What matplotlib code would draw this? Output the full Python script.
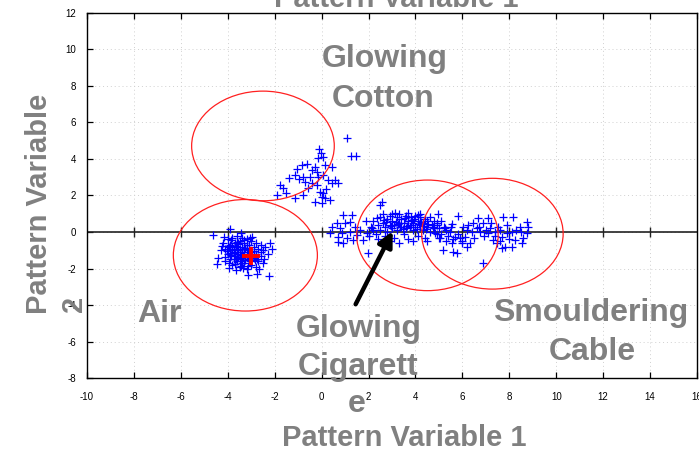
import matplotlib
matplotlib.use("Agg")
import matplotlib.pyplot as plt
from matplotlib.patches import Ellipse
import numpy as np

plt.rcParams['font.family'] = ['Liberation Sans', 'DejaVu Sans']
plt.rcParams['axes.unicode_minus'] = False

# ---------------- data ----------------
xticks = [-10, -8, -6, -4, -2, 0, 2, 4, 6, 8, 10, 12, 14, 16]
yticks = [-8, -6, -4, -2, 0, 2, 4, 6, 8, 10, 12]

# Air cluster
air_x = [-4.62, -3.90, -4.47, -3.12, -2.77, -2.24,
         -4.2, -4.1, -4.0, -4.0, -3.9, -3.9, -3.8, -3.8, -3.8, -3.7, -3.7, -3.6, -3.6, -3.6,
         -3.5, -3.5, -3.5, -3.4, -3.4, -3.4, -3.3, -3.3, -3.3, -3.2, -3.2, -3.2, -3.1, -3.1,
         -3.0, -3.0, -3.0, -2.9, -2.9, -2.8, -2.8, -2.8, -2.7, -2.7, -2.6, -2.6, -2.5, -2.5,
         -2.4, -2.3, -2.2, -4.3, -4.4, -4.1, -3.95, -3.65, -3.45, -3.85, -3.75, -3.55, -3.25,
         -2.95, -2.65, -3.35, -4.15, -2.1, -3.95, -3.75, -3.55, -3.45, -3.65, -3.85, -4.05,
         -3.15, -2.85, -3.05, -2.45, -4.25,
         -3.9, -3.8, -3.7, -3.6, -3.5, -3.4, -3.3, -3.2, -3.1, -3.0, -3.85, -3.75, -3.65,
         -3.55, -3.45, -3.35, -3.25, -3.15, -3.05, -2.95, -3.7, -3.6, -3.5, -3.4, -3.3,
         -3.2, -3.9, -4.0, -2.9, -2.75, -3.55, -3.45, -3.95, -4.1, -3.15, -2.6]
air_y = [-0.15, 0.15, -1.73, -2.33, -2.28, -2.41,
         -0.6, -0.9, -0.4, -1.2, -0.7, -1.5, -0.3, -1.0, -1.8, -0.6, -1.3, -0.2, -0.9, -1.6,
         -0.5, -1.1, -1.9, -0.3, -0.8, -1.4, -0.6, -1.2, -1.7, -0.4, -1.0, -2.0, -0.7, -1.5,
         -0.5, -1.1, -1.8, -0.8, -1.4, -0.6, -1.2, -1.9, -0.9, -1.6, -0.7, -1.3, -1.0, -1.7,
         -0.8, -1.2, -0.6, -1.0, -1.4, -1.6, -1.95, -2.05, -0.05, -0.45, -1.15, -1.35, -0.85,
         -0.25, -2.0, -1.95, -0.25, -0.9, -0.8, -0.95, -0.65, -1.25, -1.45, -1.25, -1.05,
         -1.3, -1.55, -0.35, -1.45, -0.75,
         -1.0, -0.8, -1.1, -1.2, -0.9, -1.1, -0.95, -1.25, -0.9, -1.4, -1.3, -1.5, -0.75,
         -1.0, -1.6, -1.3, -1.55, -1.1, -1.6, -1.2, -1.75, -0.55, -1.45, -1.7, -0.45,
         -0.7, -1.15, -0.75, -1.05, -1.45, -0.6, -1.85, -1.7, -1.35, -1.85, -1.1]

# Glowing cotton cluster
cotton_x = [1.10, 1.24, 1.47, -0.11, -0.04, 0.07, -0.14, 0.14, 0.43, -0.64, -0.85, -1.04,
            -0.42, -0.21, -1.13, -1.38, -0.78, -0.49, -0.14, 0.07, 0.29, 0.57, 0.71, 0.43,
            -1.77, -1.66, -0.71, -0.42, -0.21, -0.57, -0.07, 0.07, 0.00, -1.91, -1.50, -1.15,
            -0.78, -0.28, 0.00, 0.36, 0.14, -0.30, 0.20, -0.95]
cotton_y = [5.13, 4.16, 4.16, 4.52, 4.30, 4.12, 4.03, 3.66, 3.57, 3.70, 3.66, 3.43,
            3.39, 3.30, 3.12, 2.94, 3.03, 3.03, 3.03, 3.12, 2.84, 2.84, 2.66, 2.66,
            2.57, 2.39, 2.75, 2.66, 2.57, 2.39, 2.21, 2.12, 1.93, 2.02, 2.15, 1.84,
            2.02, 1.66, 1.57, 1.75, 1.84, 3.55, 2.35, 2.90]

# Glowing cigarette cluster
cig_x = [2.56, 2.49, 0.92, 1.28, 0.64, 1.00, 1.21, 0.43, 0.78, 1.42, 0.36, 0.86, 1.21, 1.64,
         0.71, 1.07, 1.35, 0.71, 0.92, 1.78, 1.99, 1.50, 1.92, 2.14,
         2.1, 2.2, 2.3, 2.4, 2.5, 2.5, 2.6, 2.7, 2.7, 2.8, 2.8, 2.9, 2.9, 3.0, 3.0, 3.1, 3.1,
         3.2, 3.2, 3.3, 3.3, 3.4, 3.4, 3.5, 3.5, 3.6, 3.6, 3.7, 3.7, 3.8, 3.8, 3.9, 3.9, 4.0,
         4.0, 4.1, 4.1, 4.2, 4.2, 4.3, 4.3, 4.4, 4.4, 4.5, 4.5, 4.6, 4.6, 4.7, 4.8, 4.8, 4.9,
         4.9, 3.0, 2.6, 3.7, 4.2, 2.4, 2.9, 3.3, 3.9, 4.5, 2.0, 2.2, 3.45, 3.55, 3.15, 2.75,
         4.05, 4.35, 3.85, 2.35, 1.9, 3.13, 3.70, 4.12, 2.95, 3.25, 3.65, 3.95, 4.25, 4.55,
         2.65, 3.35, 3.75, 4.15, 4.45]
cig_y = [1.66, 1.48, 0.93, 0.93, 0.47, 0.47, 0.56, 0.29, 0.20, 0.29, -0.07, -0.07, 0.02, 0.11,
         -0.26, -0.35, -0.44, -0.53, -0.62, -0.44, -1.17, -0.16, -0.07, 0.20,
         0.3, 0.6, -0.1, 0.4, 0.8, 0.1, 0.5, -0.2, 0.3, 0.7, 0.0, 0.4, 0.9, 0.2, 0.6, -0.3, 0.4,
         0.8, 0.1, 0.5, 1.0, 0.3, 0.7, -0.1, 0.5, 0.9, 0.2, 0.6, -0.4, 0.4, 0.8, 0.1, 0.5, 0.9,
         0.3, 0.6, -0.2, 0.4, 0.8, 0.1, 0.5, 0.7, -0.3, 0.3, 0.6, 0.0, 0.8, 0.4, 0.2, 0.6, -0.1,
         0.4, 1.0, 1.0, 1.05, 1.0, -0.4, -0.5, -0.6, -0.5, -0.5, -0.2, 0.1, 0.15, 0.75, 0.55, 0.55,
         0.15, 0.35, 0.65, 0.75, 0.6, 1.02, 0.84, 0.93, 0.35, 0.45, 0.35, 0.7, 0.55, 0.45,
         0.65, 0.25, 0.3, 0.45, 0.15]

# Smouldering cable cluster
cable_x = [4.97, 5.83, 5.54, 4.76, 4.83, 5.05, 5.19, 5.54, 5.61, 5.76, 5.97, 6.18, 6.33,
           6.04, 6.25, 6.47, 6.68, 7.11, 6.89, 7.18, 6.75, 7.11, 7.32, 7.46, 7.68, 7.82,
           7.75, 8.17, 7.89, 8.10, 8.46, 8.74, 8.74, 8.53, 8.24, 6.89, 5.26, 5.47, 5.69,
           5.90, 6.11, 6.40, 6.61, 7.39, 7.61, 7.68, 8.10,
           4.9, 5.0, 5.0, 5.1, 5.1, 5.2, 5.3, 5.3, 5.4, 5.5, 5.6, 5.8, 6.0, 6.2, 6.5, 6.7,
           6.9, 7.0, 7.2, 7.4, 7.5, 7.6, 7.9, 8.0, 8.3, 8.5, 8.6, 8.8]
cable_y = [0.98, 0.88, 0.44, 0.29, -0.07, -0.35, -0.98, -0.62, -1.08, -1.17, -0.62, -0.80, -0.62,
           0.29, 0.38, 0.47, 0.75, 0.75, 0.47, 0.20, 0.02, -0.07, -0.44, -0.62, -0.89, -0.80,
           0.84, 0.84, -0.07, 0.02, 0.29, 0.56, -0.07, -0.62, -0.44, -1.71, 0.20, 0.02, -0.26,
           -0.35, -0.26, 0.02, 0.20, 0.02, 0.11, -0.26, -0.80,
           0.5, 0.2, -0.3, 0.6, -0.1, 0.3, -0.5, 0.1, -0.2, 0.3, -0.4, -0.1, -0.5, 0.1, -0.3, 0.3,
           -0.2, 0.1, 0.5, -0.2, 0.3, -0.5, 0.4, -0.4, 0.1, 0.0, -0.3, 0.3]

# Class ellipses (centre x, centre y, width, height)
ell_cx = [-2.50, -3.25, 4.51, 7.28]
ell_cy = [4.71, -1.27, -0.18, -0.09]
ell_w = [6.08, 6.14, 6.03, 6.03]
ell_h = [6.00, 6.10, 6.05, 6.06]

# Air centroid
centroid_x = [-3.0]
centroid_y = [-1.3]

# Arrow (tail -> head)
arrow_tail = (1.45, -3.95)
arrow_head = (3.03, 0.05)

# ---------------- figure ----------------
W, H = 699, 449
fig = plt.figure(figsize=(W / 100, H / 100), dpi=100)
ax = fig.add_axes([87 / W, 1 - 378.3 / H, 610 / W, (378.3 - 12.7) / H])
ax.set_xlim(-10, 16)
ax.set_ylim(-8, 12)
ax.set_xticks(xticks)
ax.set_yticks(yticks)
ax.tick_params(direction='in', top=True, bottom=True, left=True, right=False,
               length=4, width=0.9, labelsize=7, pad=8, colors='black')
ax.tick_params(axis='x', pad=10)
for s in ax.spines.values():
    s.set_color('black')
    s.set_linewidth(1.0)
ax.grid(True, ls=(0, (1, 3)), color='#d0d0d0', lw=0.7)
ax.set_axisbelow(True)

# zero line with ticks
ax.axhline(0, color='#222222', lw=1.2, zorder=2)
ax.plot(xticks[1:-1], np.zeros(len(xticks) - 2), ls='none', marker='|', ms=7,
        mew=1.0, color='#222222', zorder=2)

gray = '#808080'
for xs, ys in [(air_x, air_y), (cotton_x, cotton_y), (cig_x, cig_y), (cable_x, cable_y)]:
    ax.plot(xs, ys, ls='none', marker='+', ms=6, mew=0.9, color='#0000ff', zorder=3)

for cx, cy, w, h in zip(ell_cx, ell_cy, ell_w, ell_h):
    ax.add_patch(Ellipse((cx, cy), w, h, fill=False, ec='#ff2020', lw=0.9, zorder=4))

ax.plot(centroid_x, centroid_y, ls='none', marker='+', ms=13, mew=2.8, color='#ff0000', zorder=5)

ax.annotate('', xy=arrow_head, xytext=arrow_tail,
            arrowprops=dict(arrowstyle='-|>,head_length=0.9,head_width=0.45', lw=3.2,
                            color='black', shrinkA=0, shrinkB=0), zorder=6)

def ftext(px, py, s, **kw):
    fig.text(px / W, 1 - py / H, s, color=gray, fontweight='bold', **kw)

big = 23
ftext(385, 67, 'Glowing', ha='center', va='baseline', fontsize=big)
ftext(383, 107, 'Cotton', ha='center', va='baseline', fontsize=big)
ftext(159.5, 322, 'Air', ha='center', va='baseline', fontsize=big)
ftext(359, 337, 'Glowing', ha='center', va='baseline', fontsize=big)
ftext(358, 375, 'Cigarett', ha='center', va='baseline', fontsize=big)
ftext(357, 412, 'e', ha='center', va='baseline', fontsize=big)
ftext(591, 321, 'Smouldering', ha='center', va='baseline', fontsize=big)
ftext(592, 360, 'Cable', ha='center', va='baseline', fontsize=big)

lab = 21
ftext(404, 446, 'Pattern Variable 1', ha='center', va='baseline', fontsize=lab)
ftext(396, 7, 'Pattern Variable 1', ha='center', va='baseline', fontsize=lab)
ftext(47, 204, 'Pattern Variable', ha='center', va='baseline', rotation=90,
      rotation_mode='anchor', fontsize=lab)
ftext(82, 304, '2', ha='center', va='baseline', rotation=90,
      rotation_mode='anchor', fontsize=lab)

fig.savefig('out.png', dpi=100)
